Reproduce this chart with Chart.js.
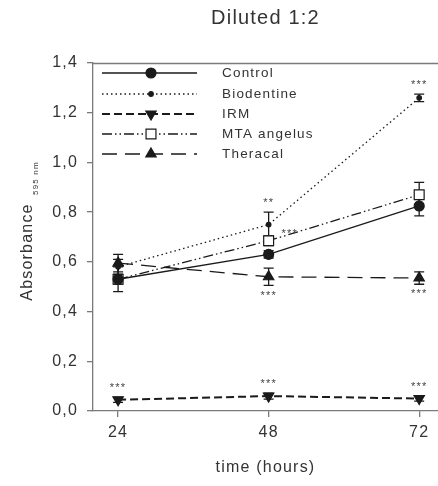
<!DOCTYPE html>
<html>
<head>
<meta charset="utf-8">
<script src="https://cdn.jsdelivr.net/npm/chart.js@4.4.1/dist/chart.umd.min.js"></script>
<style>
  html, body { margin: 0; padding: 0; background: #fff; }
  #wrap { width: 438px; height: 486px; }
</style>
</head>
<body>
<div id="wrap"><canvas id="chart"></canvas></div>
<script>
// hours after exposure
const times = [24, 48, 72];
const yTicks = [0, 0.2, 0.4, 0.6, 0.8, 1.0, 1.2, 1.4];

// absorbance means and error (± SD)
const controlVals = [0.53, 0.63, 0.825];
const controlErr = [0.02, 0.015, 0.04];
const biodentineVals = [0.58, 0.75, 1.26];
const biodentineErr = [0.03, 0.05, 0.015];
const irmVals = [0.045, 0.06, 0.05];
const irmErr = [0.01, 0.012, 0.01];
const mtaVals = [0.53, 0.685, 0.87];
const mtaErr = [0.05, 0.02, 0.05];
const theracalVals = [0.595, 0.54, 0.535];
const theracalErr = [0.035, 0.035, 0.025];

// significance marks: series index, time index, text, side
const sigMarks = [
    [2, 0, '***', 'above'],
    [1, 1, '**', 'above'],
    [3, 1, '***', 'right'],
    [4, 1, '***', 'below'],
    [2, 1, '***', 'above'],
    [1, 2, '***', 'above'],
    [4, 2, '***', 'below'],
    [2, 2, '***', 'above']
];

const ink = '#1a1a1a';
const axisGrey = '#7a7a7a';
const textGrey = '#333';
const fontFamily = '"Liberation Sans", Arial, sans-serif';

function series(label, vals, err, dash, style, radius, fill, width, rotation) {
    return {
        label: label,
        data: vals.map((v, i) => ({ x: times[i], y: v })),
        err: err,
        borderColor: ink,
        borderWidth: width,
        borderDash: dash,
        pointStyle: style,
        pointRadius: radius,
        pointHoverRadius: radius,
        pointRotation: rotation || 0,
        pointBackgroundColor: fill,
        pointBorderColor: ink,
        pointBorderWidth: 1.2,
        tension: 0,
        fill: false
    };
}

const datasets = [
    series('Control', controlVals, controlErr, [], 'circle', 5, ink, 1.3),
    series('Biodentine', biodentineVals, biodentineErr, [1.5, 3], 'circle', 2.3, ink, 1.3),
    series('IRM', irmVals, irmErr, [8, 4], 'triangle', 6, ink, 2, 180),
    series('MTA angelus', mtaVals, mtaErr, [10, 3, 1.5, 3, 1.5, 3], 'rect', 7, '#fff', 1.3),
    series('Theracal', theracalVals, theracalErr, [15, 8], 'triangle', 6, ink, 1.3)
];

// the source figure has widely spaced lettering
const spacing = {
    id: 'spacing',
    beforeUpdate(chart) { chart.ctx.letterSpacing = '1.2px'; },
    beforeDraw(chart) { chart.ctx.letterSpacing = '1.2px'; }
};

// error bars, drawn under the points
const errorBars = {
    id: 'errorBars',
    beforeDatasetsDraw(chart) {
        const ctx = chart.ctx;
        const ys = chart.scales.y;
        ctx.save();
        ctx.strokeStyle = ink;
        ctx.lineWidth = 1.3;
        chart.data.datasets.forEach((ds, di) => {
            const meta = chart.getDatasetMeta(di);
            meta.data.forEach((pt, i) => {
                const v = ds.data[i].y;
                const top = ys.getPixelForValue(v + ds.err[i]);
                const bot = ys.getPixelForValue(v - ds.err[i]);
                ctx.beginPath();
                ctx.moveTo(pt.x, top); ctx.lineTo(pt.x, bot);
                ctx.moveTo(pt.x - 5, top); ctx.lineTo(pt.x + 5, top);
                ctx.moveTo(pt.x - 5, bot); ctx.lineTo(pt.x + 5, bot);
                ctx.stroke();
            });
        });
        ctx.restore();
    }
};

// asterisks, y-axis label with subscript, top frame line and the legend
const extras = {
    id: 'extras',
    afterDraw(chart) {
        const ctx = chart.ctx;
        const ys = chart.scales.y;
        const area = chart.chartArea;
        ctx.save();

        // frame line at the top
        ctx.strokeStyle = axisGrey;
        ctx.lineWidth = 1.3;
        ctx.beginPath();
        ctx.moveTo(area.left, area.top + 0.5);
        ctx.lineTo(area.right, area.top + 0.5);
        ctx.stroke();

        // significance marks
        ctx.fillStyle = '#444';
        ctx.font = '11px ' + fontFamily;
        ctx.textAlign = 'center';
        ctx.textBaseline = 'middle';
        sigMarks.forEach(m => {
            const ds = chart.data.datasets[m[0]];
            const pt = chart.getDatasetMeta(m[0]).data[m[1]];
            const v = ds.data[m[1]].y;
            const e = ds.err[m[1]];
            if (m[3] === 'above') {
                ctx.fillText(m[2], pt.x, ys.getPixelForValue(v + e) - 9);
            } else if (m[3] === 'below') {
                ctx.fillText(m[2], pt.x, ys.getPixelForValue(v - e) + 10);
            } else {
                ctx.fillText(m[2], pt.x + 21, pt.y - 7);
            }
        });

        // y-axis title
        ctx.fillStyle = textGrey;
        ctx.translate(28, 252);
        ctx.rotate(-Math.PI / 2);
        ctx.textAlign = 'center';
        ctx.font = '16px ' + fontFamily;
        ctx.fillText('Absorbance', 0, 0);
        ctx.font = '8px ' + fontFamily;
        ctx.textAlign = 'left';
        ctx.fillText('595 nm', 57, 8);
        ctx.setTransform(1, 0, 0, 1, 0, 0);

        // legend: line sample with marker in the middle
        const x0 = 102, x1 = 197, xm = 151, xt = 222;
        const rowY = [73, 94, 114, 134, 154];
        chart.data.datasets.forEach((ds, i) => {
            const y = rowY[i];
            ctx.strokeStyle = ink;
            ctx.lineWidth = ds.borderWidth;
            ctx.setLineDash(ds.borderDash);
            ctx.beginPath();
            ctx.moveTo(x0, y); ctx.lineTo(x1, y);
            ctx.stroke();
            ctx.setLineDash([]);
            ctx.fillStyle = ds.pointBackgroundColor;
            ctx.strokeStyle = ink;
            ctx.lineWidth = ds.pointBorderWidth;
            Chart.helpers.drawPoint(ctx, {
                pointStyle: ds.pointStyle,
                rotation: ds.pointRotation,
                radius: ds.pointRadius,
                borderWidth: ds.pointBorderWidth
            }, xm, y);
            ctx.fillStyle = textGrey;
            ctx.font = '13.5px ' + fontFamily;
            ctx.textAlign = 'left';
            ctx.textBaseline = 'middle';
            ctx.fillText(ds.label, xt, y);
        });
        ctx.restore();
    }
};

const config = {
    type: 'line',
    data: { datasets: datasets },
    options: {
        responsive: true,
        maintainAspectRatio: false,
        animation: false,
        layout: { padding: 0, autoPadding: false },
        scales: {
            x: {
                type: 'linear',
                min: 20,
                max: 75,
                afterBuildTicks(scale) {
                    scale.ticks = times.map(t => ({ value: t }));
                },
                afterFit(scale) {
                    scale.height = 75;
                    scale.paddingLeft = 0;
                    scale.paddingRight = 0;
                },
                grid: {
                    drawOnChartArea: false,
                    drawTicks: true,
                    tickLength: 6,
                    color: axisGrey,
                    lineWidth: 1.3
                },
                border: { color: axisGrey, width: 1.3 },
                ticks: {
                    color: textGrey,
                    font: { family: fontFamily, size: 16 },
                    padding: 6
                },
                title: {
                    display: true,
                    text: 'time (hours)',
                    color: textGrey,
                    font: { family: fontFamily, size: 16 },
                    padding: { top: 0, bottom: 9 }
                }
            },
            y: {
                min: 0,
                max: 1.4,
                afterBuildTicks(scale) {
                    scale.ticks = yTicks.map(t => ({ value: t }));
                },
                afterFit(scale) {
                    scale.width = 93;
                    scale.paddingTop = 0;
                    scale.paddingBottom = 0;
                },
                grid: {
                    drawOnChartArea: false,
                    drawTicks: true,
                    tickLength: 6,
                    color: axisGrey,
                    lineWidth: 1.3
                },
                border: { color: axisGrey, width: 1.3 },
                ticks: {
                    color: textGrey,
                    font: { family: fontFamily, size: 16 },
                    padding: 9,
                    callback: v => v.toFixed(1).replace('.', ',')
                }
            }
        },
        plugins: {
            legend: { display: false },
            tooltip: { enabled: false },
            title: {
                display: true,
                fullSize: false,
                text: 'Diluted 1:2',
                color: textGrey,
                font: { family: fontFamily, size: 20, weight: 'normal' },
                padding: { top: 6, bottom: 33 }
            }
        }
    },
    plugins: [spacing, errorBars, extras]
};

new Chart(document.getElementById('chart').getContext('2d'), config);
</script>
</body>
</html>
